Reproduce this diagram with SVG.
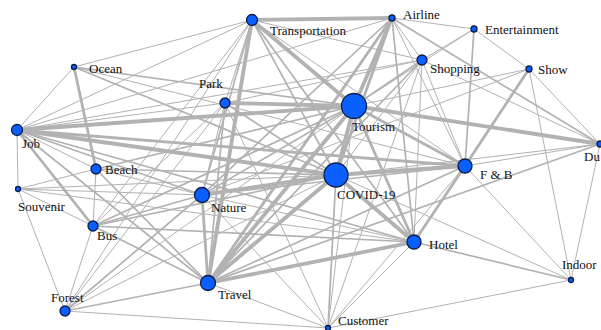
<svg xmlns="http://www.w3.org/2000/svg" width="601" height="330" viewBox="0 0 601 330">
<style>
.e line{stroke:#b2b2b2;stroke-linecap:round}
.w1{stroke-width:1}
.w2{stroke-width:1.7}
.w3{stroke-width:2.8}
.w4{stroke-width:3.8}
.n circle{fill:#0a5fff;stroke:#0b1d4a;stroke-width:1.3}
.n text{font-family:"Liberation Serif","Times New Roman",serif;font-size:13px;fill:#111111}
</style>
<rect width="601" height="330" fill="#ffffff"/>
<g id="connectors" class="e">
<line class="w4" x1="252" y1="20" x2="392" y2="18"/>
<line class="w1" x1="252" y1="20" x2="74" y2="67"/>
<line class="w1" x1="252" y1="20" x2="17" y2="130"/>
<line class="w4" x1="252" y1="20" x2="354" y2="106"/>
<line class="w4" x1="252" y1="20" x2="208" y2="283"/>
<line class="w2" x1="252" y1="20" x2="336" y2="175"/>
<line class="w2" x1="252" y1="20" x2="202" y2="195"/>
<line class="w1" x1="252" y1="20" x2="93" y2="226"/>
<line class="w1" x1="252" y1="20" x2="65" y2="311"/>
<line class="w2" x1="252" y1="20" x2="414" y2="242"/>
<line class="w1" x1="252" y1="20" x2="465" y2="166"/>
<line class="w1" x1="252" y1="20" x2="422" y2="60"/>
<line class="w1" x1="252" y1="20" x2="225" y2="103"/>
<line class="w4" x1="392" y1="18" x2="354" y2="106"/>
<line class="w3" x1="392" y1="18" x2="336" y2="175"/>
<line class="w3" x1="392" y1="18" x2="208" y2="283"/>
<line class="w2" x1="392" y1="18" x2="202" y2="195"/>
<line class="w1" x1="392" y1="18" x2="474" y2="29"/>
<line class="w1" x1="392" y1="18" x2="422" y2="60"/>
<line class="w2" x1="392" y1="18" x2="600" y2="144"/>
<line class="w1" x1="392" y1="18" x2="465" y2="166"/>
<line class="w2" x1="392" y1="18" x2="414" y2="242"/>
<line class="w1" x1="392" y1="18" x2="17" y2="130"/>
<line class="w1" x1="474" y1="29" x2="422" y2="60"/>
<line class="w2" x1="474" y1="29" x2="465" y2="166"/>
<line class="w1" x1="474" y1="29" x2="529" y2="69"/>
<line class="w1" x1="474" y1="29" x2="354" y2="106"/>
<line class="w2" x1="422" y1="60" x2="354" y2="106"/>
<line class="w1" x1="422" y1="60" x2="336" y2="175"/>
<line class="w1" x1="422" y1="60" x2="414" y2="242"/>
<line class="w1" x1="422" y1="60" x2="465" y2="166"/>
<line class="w1" x1="422" y1="60" x2="17" y2="130"/>
<line class="w1" x1="422" y1="60" x2="225" y2="103"/>
<line class="w2" x1="422" y1="60" x2="208" y2="283"/>
<line class="w1" x1="422" y1="60" x2="328" y2="328"/>
<line class="w1" x1="422" y1="60" x2="600" y2="144"/>
<line class="w3" x1="529" y1="69" x2="465" y2="166"/>
<line class="w1" x1="529" y1="69" x2="600" y2="144"/>
<line class="w1" x1="529" y1="69" x2="571" y2="280"/>
<line class="w1" x1="529" y1="69" x2="354" y2="106"/>
<line class="w1" x1="529" y1="69" x2="202" y2="195"/>
<line class="w4" x1="354" y1="106" x2="336" y2="175"/>
<line class="w4" x1="354" y1="106" x2="17" y2="130"/>
<line class="w4" x1="354" y1="106" x2="600" y2="144"/>
<line class="w3" x1="354" y1="106" x2="465" y2="166"/>
<line class="w4" x1="354" y1="106" x2="208" y2="283"/>
<line class="w3" x1="354" y1="106" x2="414" y2="242"/>
<line class="w2" x1="354" y1="106" x2="202" y2="195"/>
<line class="w4" x1="354" y1="106" x2="225" y2="103"/>
<line class="w2" x1="354" y1="106" x2="96" y2="169"/>
<line class="w2" x1="354" y1="106" x2="93" y2="226"/>
<line class="w1" x1="354" y1="106" x2="65" y2="311"/>
<line class="w1" x1="354" y1="106" x2="328" y2="328"/>
<line class="w2" x1="354" y1="106" x2="74" y2="67"/>
<line class="w4" x1="336" y1="175" x2="17" y2="130"/>
<line class="w4" x1="336" y1="175" x2="465" y2="166"/>
<line class="w4" x1="336" y1="175" x2="414" y2="242"/>
<line class="w4" x1="336" y1="175" x2="208" y2="283"/>
<line class="w4" x1="336" y1="175" x2="202" y2="195"/>
<line class="w2" x1="336" y1="175" x2="96" y2="169"/>
<line class="w2" x1="336" y1="175" x2="93" y2="226"/>
<line class="w1" x1="336" y1="175" x2="18" y2="189"/>
<line class="w2" x1="336" y1="175" x2="328" y2="328"/>
<line class="w2" x1="336" y1="175" x2="74" y2="67"/>
<line class="w2" x1="336" y1="175" x2="225" y2="103"/>
<line class="w1" x1="336" y1="175" x2="600" y2="144"/>
<line class="w1" x1="336" y1="175" x2="571" y2="280"/>
<line class="w3" x1="465" y1="166" x2="414" y2="242"/>
<line class="w1" x1="465" y1="166" x2="600" y2="144"/>
<line class="w1" x1="465" y1="166" x2="571" y2="280"/>
<line class="w2" x1="465" y1="166" x2="208" y2="283"/>
<line class="w2" x1="465" y1="166" x2="202" y2="195"/>
<line class="w1" x1="465" y1="166" x2="328" y2="328"/>
<line class="w3" x1="465" y1="166" x2="17" y2="130"/>
<line class="w1" x1="465" y1="166" x2="74" y2="67"/>
<line class="w4" x1="414" y1="242" x2="208" y2="283"/>
<line class="w2" x1="414" y1="242" x2="571" y2="280"/>
<line class="w1" x1="414" y1="242" x2="328" y2="328"/>
<line class="w1" x1="414" y1="242" x2="202" y2="195"/>
<line class="w2" x1="414" y1="242" x2="93" y2="226"/>
<line class="w1" x1="414" y1="242" x2="18" y2="189"/>
<line class="w2" x1="414" y1="242" x2="17" y2="130"/>
<line class="w1" x1="571" y1="280" x2="328" y2="328"/>
<line class="w1" x1="571" y1="280" x2="600" y2="144"/>
<line class="w2" x1="600" y1="144" x2="208" y2="283"/>
<line class="w3" x1="208" y1="283" x2="202" y2="195"/>
<line class="w2" x1="208" y1="283" x2="93" y2="226"/>
<line class="w2" x1="208" y1="283" x2="65" y2="311"/>
<line class="w2" x1="208" y1="283" x2="17" y2="130"/>
<line class="w1" x1="208" y1="283" x2="328" y2="328"/>
<line class="w2" x1="208" y1="283" x2="225" y2="103"/>
<line class="w2" x1="208" y1="283" x2="96" y2="169"/>
<line class="w2" x1="202" y1="195" x2="93" y2="226"/>
<line class="w2" x1="202" y1="195" x2="65" y2="311"/>
<line class="w1" x1="202" y1="195" x2="96" y2="169"/>
<line class="w1" x1="202" y1="195" x2="18" y2="189"/>
<line class="w2" x1="202" y1="195" x2="17" y2="130"/>
<line class="w1" x1="202" y1="195" x2="225" y2="103"/>
<line class="w1" x1="202" y1="195" x2="328" y2="328"/>
<line class="w3" x1="96" y1="169" x2="74" y2="67"/>
<line class="w1" x1="96" y1="169" x2="18" y2="189"/>
<line class="w1" x1="96" y1="169" x2="17" y2="130"/>
<line class="w1" x1="96" y1="169" x2="93" y2="226"/>
<line class="w3" x1="93" y1="226" x2="17" y2="130"/>
<line class="w1" x1="93" y1="226" x2="18" y2="189"/>
<line class="w1" x1="93" y1="226" x2="65" y2="311"/>
<line class="w1" x1="93" y1="226" x2="225" y2="103"/>
<line class="w1" x1="65" y1="311" x2="18" y2="189"/>
<line class="w1" x1="65" y1="311" x2="328" y2="328"/>
<line class="w1" x1="65" y1="311" x2="225" y2="103"/>
<line class="w1" x1="65" y1="311" x2="336" y2="175"/>
<line class="w1" x1="17" y1="130" x2="18" y2="189"/>
<line class="w1" x1="17" y1="130" x2="74" y2="67"/>
<line class="w1" x1="17" y1="130" x2="225" y2="103"/>
<line class="w1" x1="225" y1="103" x2="328" y2="328"/>
</g>
<g id="node-transportation" class="n"><circle cx="252" cy="20" r="5.5"/><text x="270" y="35">Transportation</text></g>
<g id="node-airline" class="n"><circle cx="392" cy="18" r="3"/><text x="403" y="19">Airline</text></g>
<g id="node-entertainment" class="n"><circle cx="474" cy="29" r="3"/><text x="485" y="34">Entertainment</text></g>
<g id="node-ocean" class="n"><circle cx="74" cy="67" r="2.5"/><text x="89" y="73">Ocean</text></g>
<g id="node-park" class="n"><circle cx="225" cy="103" r="5"/><text x="199" y="88">Park</text></g>
<g id="node-shopping" class="n"><circle cx="422" cy="60" r="5"/><text x="430" y="73">Shopping</text></g>
<g id="node-show" class="n"><circle cx="529" cy="69" r="3"/><text x="538" y="74">Show</text></g>
<g id="node-tourism" class="n"><circle cx="354" cy="106" r="12.5"/><text x="352" y="131">Tourism</text></g>
<g id="node-job" class="n"><circle cx="17" cy="130" r="5.5"/><text x="22" y="148">Job</text></g>
<g id="node-du" class="n"><circle cx="600" cy="144" r="3"/><text x="584" y="161">Du</text></g>
<g id="node-beach" class="n"><circle cx="96" cy="169" r="5"/><text x="105" y="174">Beach</text></g>
<g id="node-fb" class="n"><circle cx="465" cy="166" r="7"/><text x="480" y="179">F &amp; B</text></g>
<g id="node-covid" class="n"><circle cx="336" cy="175" r="12"/><text x="337" y="199">COVID-19</text></g>
<g id="node-souvenir" class="n"><circle cx="18" cy="189" r="2.5"/><text x="18" y="211">Souvenir</text></g>
<g id="node-nature" class="n"><circle cx="202" cy="195" r="7.5"/><text x="211" y="212">Nature</text></g>
<g id="node-bus" class="n"><circle cx="93" cy="226" r="5"/><text x="97" y="240">Bus</text></g>
<g id="node-hotel" class="n"><circle cx="414" cy="242" r="7"/><text x="429" y="249">Hotel</text></g>
<g id="node-indoor" class="n"><circle cx="571" cy="280" r="2.5"/><text x="562" y="269">Indoor</text></g>
<g id="node-travel" class="n"><circle cx="208" cy="283" r="7.5"/><text x="218" y="299">Travel</text></g>
<g id="node-forest" class="n"><circle cx="65" cy="311" r="5"/><text x="51" y="302">Forest</text></g>
<g id="node-customer" class="n"><circle cx="328" cy="328" r="2.5"/><text x="338" y="325">Customer</text></g>
</svg>
